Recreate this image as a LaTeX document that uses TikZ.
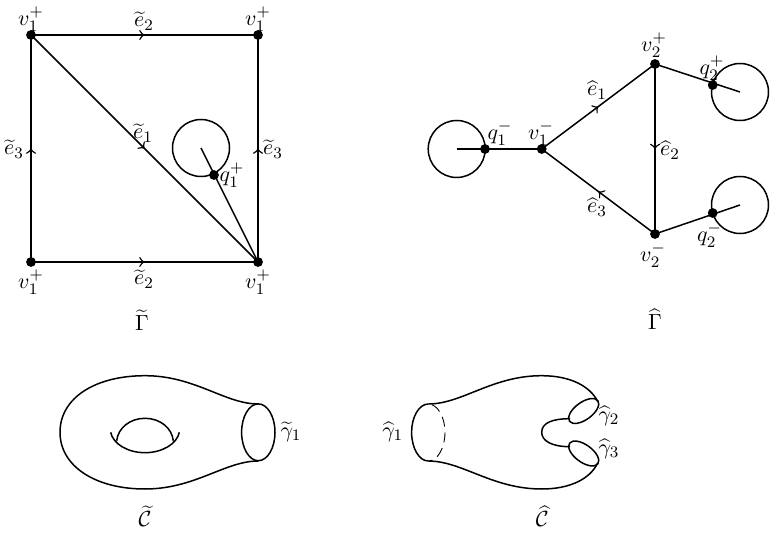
\documentclass[tikz,border=0pt]{standalone}
\usetikzlibrary{decorations.markings}
\tikzset{
  line/.style={line width=0.75pt},
  dot/.style={circle,fill=black,inner sep=0pt,minimum size=4.9pt},
  loopc/.style={circle,draw,line width=0.75pt,inner sep=0pt,minimum size=57pt*0.5},
  lab/.style={inner sep=0pt,font=\fontsize{11}{13}\selectfont},
  midarrow/.style={line width=0.75pt,postaction={decorate},decoration={markings,mark=at position 0.5 with {\arrow[scale=1.2,line width=0.6pt]{>}}}}
}
\begin{document}
\begin{tikzpicture}[x=0.5pt,y=-0.5pt]
\useasboundingbox (0,0) rectangle (776,534);
% left graph
\node[dot] (a) at (31,35) {};
\node[dot] (b) at (258,35) {};
\node[dot] (c) at (31,262) {};
\node[dot] (d) at (258,262) {};
\node[loopc] (l1) at (201,148) {};
\node[dot] (q1p) at (214,175) {};
\draw[midarrow] (a.center) -- (b.center);
\draw[midarrow] (c.center) -- (d.center);
\draw[midarrow] (c.center) -- (a.center);
\draw[midarrow] (d.center) -- (b.center);
\draw[midarrow] (a.center) -- (d.center);
\draw[line] (d.center) -- (l1.center);
\node[lab] (t1) at (31,19) {$v_1^+$};
\node[lab] (t2) at (258,19) {$v_1^+$};
\node[lab] (t3) at (31,282) {$v_1^+$};
\node[lab] (t4) at (258,282) {$v_1^+$};
\node[lab] (t5) at (144,21) {$\widetilde{e}_2$};
\node[lab] (t6) at (144,279) {$\widetilde{e}_2$};
\node[lab] (t7) at (14,149) {$\widetilde{e}_3$};
\node[lab] (t8) at (273,149) {$\widetilde{e}_3$};
\node[lab] (t9) at (143,133) {$\widetilde{e}_1$};
\node[lab] (t10) at (232,175) {$q_1^+$};
\node[lab] (t11) at (142,320) {$\widetilde{\Gamma}$};
% right graph
\node[dot] (vtwop) at (655,64) {};
\node[dot] (vone) at (541.7,149) {};
\node[dot] (vtwom) at (655,234) {};
\node[dot] (qonem) at (485,149) {};
\node[dot] (qtwop) at (712.7,85) {};
\node[dot] (qtwom) at (712.7,213) {};
\node[loopc] (l2) at (456.7,149) {};
\node[loopc] (l3) at (740,92) {};
\node[loopc] (l4) at (740,205) {};
\draw[midarrow] (vone.center) -- (vtwop.center);
\draw[midarrow] (vtwop.center) -- (vtwom.center);
\draw[midarrow] (vtwom.center) -- (vone.center);
\draw[line] (l2.center) -- (vone.center);
\draw[line] (vtwop.center) -- (l3.center);
\draw[line] (vtwom.center) -- (l4.center);
\node[lab] (r1) at (500,133) {$q_1^-$};
\node[lab] (r2) at (541,133) {$v_1^-$};
\node[lab] (r3) at (654,45) {$v_2^+$};
\node[lab] (r4) at (712,68) {$q_2^+$};
\node[lab] (r5) at (709.5,235) {$q_2^-$};
\node[lab] (r6) at (653,255) {$v_2^-$};
\node[lab] (r7) at (597,90) {$\widehat{e}_1$};
\node[lab] (r8) at (670,150) {$\widehat{e}_2$};
\node[lab] (r9) at (597,207) {$\widehat{e}_3$};
\node[lab] (r10) at (655,319) {$\widehat{\Gamma}$};
% left surface
\draw[line] (258.3,404) .. controls (225,404) and (195,375.7) .. (145,375.7)
  .. controls (95,375.7) and (60,398) .. (60,432.3)
  .. controls (60,466) and (95,489) .. (145,489)
  .. controls (195,489) and (225,461) .. (258.3,461);
\draw[line] (258.3,432.3) ellipse [x radius=16.7, y radius=28.4];
\draw[line] (110.7,432.3) .. controls (113,444) and (128,452.7) .. (145,452.7)
  .. controls (162,452.7) and (177,444) .. (179.3,432.3);
\draw[line] (116.7,440.7) .. controls (118,428) and (130,418.3) .. (145,418.3)
  .. controls (160,418.3) and (172,428) .. (173.3,440.7);
\node[lab] (s1) at (291,432) {$\widetilde{\gamma}_1$};
\node[lab] (s2) at (145,516) {$\widetilde{\mathcal{C}}$};
% right surface
\draw[line] (428.3,404) .. controls (419,404) and (411.6,417) .. (411.6,432.3)
  .. controls (411.6,448) and (419,461) .. (428.3,461);
\draw[dash pattern=on 5pt off 3pt,dash phase=-2pt,line width=0.45pt] (428.3,404) .. controls (437.5,404) and (445,417) .. (445,432.3)
  .. controls (445,448) and (437.5,461) .. (428.3,461);
\draw[line] (428.3,404) .. controls (462,404) and (492,375.7) .. (541.7,375.7)
  .. controls (570,375.7) and (590,386) .. (597.7,401.5);
\draw[line] (428.3,461) .. controls (462,461) and (492,489) .. (541.7,489)
  .. controls (570,489) and (590,479) .. (597.7,463);
\draw[line,rotate around={36:(583.7,411)}] (583.7,411) ellipse [x radius=17.5, y radius=8.7];
\draw[line,rotate around={-36:(583.7,453.5)}] (583.7,453.5) ellipse [x radius=17.5, y radius=8.7];
\draw[line] (570,418.7) .. controls (552,418.7) and (541.7,423) .. (541.7,432.3)
  .. controls (541.7,441) and (552,446.7) .. (570,446.7);
\node[lab] (s3) at (392.7,432) {$\widehat{\gamma}_1$};
\node[lab] (s4) at (609,416) {$\widehat{\gamma}_2$};
\node[lab] (s5) at (609,449) {$\widehat{\gamma}_3$};
\node[lab] (s6) at (542.3,516) {$\widehat{\mathcal{C}}$};
\end{tikzpicture}
\end{document}
